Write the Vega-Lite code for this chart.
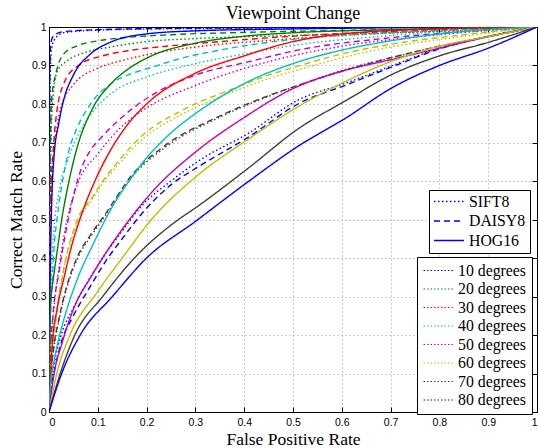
{
"$schema": "https://vega.github.io/schema/vega-lite/v6.json",
"width": 488, "height": 385,
"autosize": {"type": "none"},
"padding": {"left": 49, "top": 27, "right": 1, "bottom": 36},
"background": "white",
"title": {"text": "Viewpoint Change", "font": "Liberation Serif", "fontSize": 18, "fontWeight": "normal", "color": "black", "offset": 5, "dy": 6, "anchor": "middle"},
"config": {
 "view": {"stroke": "black", "strokeWidth": 1},
 "axis": {"domainColor": "black", "tickColor": "black", "tickSize": -5, "labelFont": "Liberation Sans", "labelFontSize": 10.5, "labelColor": "black", "gridDash": [1, 3], "gridColor": "#999999", "gridOpacity": 1, "titleFont": "Liberation Serif", "titleFontSize": 17.5, "titleFontWeight": "normal", "titleColor": "black"},
 "legend": {"orient": "none", "strokeColor": "black", "fillColor": "white", "padding": 6, "labelFont": "Liberation Serif", "labelFontSize": 15.8, "labelColor": "black", "symbolType": "stroke", "symbolSize": 900, "clipHeight": 15, "labelOffset": 4}
},
"data": {"values": [
{"m":"SIFT8","a":"10 degrees","x":0,"y":0},{"m":"SIFT8","a":"10 degrees","x":0.001,"y":0.4},{"m":"SIFT8","a":"10 degrees","x":0.002,"y":0.85},{"m":"SIFT8","a":"10 degrees","x":0.005,"y":0.94},{"m":"SIFT8","a":"10 degrees","x":0.01,"y":0.965},{"m":"SIFT8","a":"10 degrees","x":0.03,"y":0.985},{"m":"SIFT8","a":"10 degrees","x":0.1,"y":0.992},{"m":"SIFT8","a":"10 degrees","x":0.3,"y":0.996},{"m":"SIFT8","a":"10 degrees","x":1,"y":1},
{"m":"SIFT8","a":"20 degrees","x":0,"y":0},{"m":"SIFT8","a":"20 degrees","x":0.001,"y":0.3},{"m":"SIFT8","a":"20 degrees","x":0.003,"y":0.6},{"m":"SIFT8","a":"20 degrees","x":0.007,"y":0.8},{"m":"SIFT8","a":"20 degrees","x":0.017,"y":0.885},{"m":"SIFT8","a":"20 degrees","x":0.037,"y":0.912},{"m":"SIFT8","a":"20 degrees","x":0.072,"y":0.933},{"m":"SIFT8","a":"20 degrees","x":0.126,"y":0.948},{"m":"SIFT8","a":"20 degrees","x":0.2,"y":0.962},{"m":"SIFT8","a":"20 degrees","x":0.3,"y":0.97},{"m":"SIFT8","a":"20 degrees","x":0.5,"y":0.978},{"m":"SIFT8","a":"20 degrees","x":0.7,"y":0.985},{"m":"SIFT8","a":"20 degrees","x":0.9,"y":0.993},{"m":"SIFT8","a":"20 degrees","x":1,"y":1},
{"m":"SIFT8","a":"30 degrees","x":0,"y":0},{"m":"SIFT8","a":"30 degrees","x":0.001,"y":0.25},{"m":"SIFT8","a":"30 degrees","x":0.004,"y":0.5},{"m":"SIFT8","a":"30 degrees","x":0.01,"y":0.67},{"m":"SIFT8","a":"30 degrees","x":0.017,"y":0.745},{"m":"SIFT8","a":"30 degrees","x":0.024,"y":0.79},{"m":"SIFT8","a":"30 degrees","x":0.05,"y":0.85},{"m":"SIFT8","a":"30 degrees","x":0.1,"y":0.893},{"m":"SIFT8","a":"30 degrees","x":0.147,"y":0.912},{"m":"SIFT8","a":"30 degrees","x":0.208,"y":0.93},{"m":"SIFT8","a":"30 degrees","x":0.3,"y":0.948},{"m":"SIFT8","a":"30 degrees","x":0.45,"y":0.965},{"m":"SIFT8","a":"30 degrees","x":0.6,"y":0.978},{"m":"SIFT8","a":"30 degrees","x":0.8,"y":0.99},{"m":"SIFT8","a":"30 degrees","x":1,"y":1},
{"m":"SIFT8","a":"40 degrees","x":0,"y":0},{"m":"SIFT8","a":"40 degrees","x":0.002,"y":0.2},{"m":"SIFT8","a":"40 degrees","x":0.005,"y":0.35},{"m":"SIFT8","a":"40 degrees","x":0.01,"y":0.47},{"m":"SIFT8","a":"40 degrees","x":0.02,"y":0.57},{"m":"SIFT8","a":"40 degrees","x":0.04,"y":0.66},{"m":"SIFT8","a":"40 degrees","x":0.06,"y":0.72},{"m":"SIFT8","a":"40 degrees","x":0.09,"y":0.78},{"m":"SIFT8","a":"40 degrees","x":0.13,"y":0.83},{"m":"SIFT8","a":"40 degrees","x":0.2,"y":0.87},{"m":"SIFT8","a":"40 degrees","x":0.3,"y":0.905},{"m":"SIFT8","a":"40 degrees","x":0.4,"y":0.93},{"m":"SIFT8","a":"40 degrees","x":0.5,"y":0.952},{"m":"SIFT8","a":"40 degrees","x":0.7,"y":0.978},{"m":"SIFT8","a":"40 degrees","x":1,"y":1},
{"m":"SIFT8","a":"50 degrees","x":0,"y":0},{"m":"SIFT8","a":"50 degrees","x":0.003,"y":0.15},{"m":"SIFT8","a":"50 degrees","x":0.01,"y":0.27},{"m":"SIFT8","a":"50 degrees","x":0.02,"y":0.37},{"m":"SIFT8","a":"50 degrees","x":0.031,"y":0.46},{"m":"SIFT8","a":"50 degrees","x":0.058,"y":0.59},{"m":"SIFT8","a":"50 degrees","x":0.1,"y":0.67},{"m":"SIFT8","a":"50 degrees","x":0.147,"y":0.739},{"m":"SIFT8","a":"50 degrees","x":0.2,"y":0.79},{"m":"SIFT8","a":"50 degrees","x":0.3,"y":0.848},{"m":"SIFT8","a":"50 degrees","x":0.45,"y":0.91},{"m":"SIFT8","a":"50 degrees","x":0.6,"y":0.95},{"m":"SIFT8","a":"50 degrees","x":0.8,"y":0.98},{"m":"SIFT8","a":"50 degrees","x":1,"y":1},
{"m":"SIFT8","a":"60 degrees","x":0,"y":0},{"m":"SIFT8","a":"60 degrees","x":0.005,"y":0.12},{"m":"SIFT8","a":"60 degrees","x":0.015,"y":0.25},{"m":"SIFT8","a":"60 degrees","x":0.03,"y":0.37},{"m":"SIFT8","a":"60 degrees","x":0.055,"y":0.48},{"m":"SIFT8","a":"60 degrees","x":0.09,"y":0.555},{"m":"SIFT8","a":"60 degrees","x":0.105,"y":0.585},{"m":"SIFT8","a":"60 degrees","x":0.14,"y":0.64},{"m":"SIFT8","a":"60 degrees","x":0.193,"y":0.71},{"m":"SIFT8","a":"60 degrees","x":0.275,"y":0.775},{"m":"SIFT8","a":"60 degrees","x":0.37,"y":0.828},{"m":"SIFT8","a":"60 degrees","x":0.45,"y":0.866},{"m":"SIFT8","a":"60 degrees","x":0.514,"y":0.89},{"m":"SIFT8","a":"60 degrees","x":0.6,"y":0.92},{"m":"SIFT8","a":"60 degrees","x":0.7,"y":0.948},{"m":"SIFT8","a":"60 degrees","x":0.85,"y":0.976},{"m":"SIFT8","a":"60 degrees","x":1,"y":1},
{"m":"SIFT8","a":"70 degrees","x":0,"y":0},{"m":"SIFT8","a":"70 degrees","x":0.003,"y":0.08},{"m":"SIFT8","a":"70 degrees","x":0.01,"y":0.165},{"m":"SIFT8","a":"70 degrees","x":0.02,"y":0.235},{"m":"SIFT8","a":"70 degrees","x":0.036,"y":0.32},{"m":"SIFT8","a":"70 degrees","x":0.057,"y":0.395},{"m":"SIFT8","a":"70 degrees","x":0.085,"y":0.455},{"m":"SIFT8","a":"70 degrees","x":0.113,"y":0.505},{"m":"SIFT8","a":"70 degrees","x":0.173,"y":0.615},{"m":"SIFT8","a":"70 degrees","x":0.241,"y":0.69},{"m":"SIFT8","a":"70 degrees","x":0.344,"y":0.762},{"m":"SIFT8","a":"70 degrees","x":0.446,"y":0.818},{"m":"SIFT8","a":"70 degrees","x":0.514,"y":0.85},{"m":"SIFT8","a":"70 degrees","x":0.6,"y":0.887},{"m":"SIFT8","a":"70 degrees","x":0.7,"y":0.92},{"m":"SIFT8","a":"70 degrees","x":0.8,"y":0.95},{"m":"SIFT8","a":"70 degrees","x":0.9,"y":0.975},{"m":"SIFT8","a":"70 degrees","x":1,"y":1},
{"m":"SIFT8","a":"80 degrees","x":0,"y":0},{"m":"SIFT8","a":"80 degrees","x":0.003,"y":0.06},{"m":"SIFT8","a":"80 degrees","x":0.01,"y":0.12},{"m":"SIFT8","a":"80 degrees","x":0.025,"y":0.2},{"m":"SIFT8","a":"80 degrees","x":0.05,"y":0.27},{"m":"SIFT8","a":"80 degrees","x":0.08,"y":0.34},{"m":"SIFT8","a":"80 degrees","x":0.115,"y":0.41},{"m":"SIFT8","a":"80 degrees","x":0.15,"y":0.47},{"m":"SIFT8","a":"80 degrees","x":0.186,"y":0.53},{"m":"SIFT8","a":"80 degrees","x":0.25,"y":0.6},{"m":"SIFT8","a":"80 degrees","x":0.31,"y":0.655},{"m":"SIFT8","a":"80 degrees","x":0.41,"y":0.725},{"m":"SIFT8","a":"80 degrees","x":0.51,"y":0.81},{"m":"SIFT8","a":"80 degrees","x":0.61,"y":0.855},{"m":"SIFT8","a":"80 degrees","x":0.71,"y":0.903},{"m":"SIFT8","a":"80 degrees","x":0.8,"y":0.945},{"m":"SIFT8","a":"80 degrees","x":0.9,"y":0.976},{"m":"SIFT8","a":"80 degrees","x":1,"y":1},
{"m":"DAISY8","a":"10 degrees","x":0,"y":0},{"m":"DAISY8","a":"10 degrees","x":0.001,"y":0.5},{"m":"DAISY8","a":"10 degrees","x":0.002,"y":0.9},{"m":"DAISY8","a":"10 degrees","x":0.004,"y":0.96},{"m":"DAISY8","a":"10 degrees","x":0.01,"y":0.978},{"m":"DAISY8","a":"10 degrees","x":0.03,"y":0.988},{"m":"DAISY8","a":"10 degrees","x":0.1,"y":0.993},{"m":"DAISY8","a":"10 degrees","x":0.3,"y":0.997},{"m":"DAISY8","a":"10 degrees","x":1,"y":1},
{"m":"DAISY8","a":"20 degrees","x":0,"y":0},{"m":"DAISY8","a":"20 degrees","x":0.001,"y":0.4},{"m":"DAISY8","a":"20 degrees","x":0.003,"y":0.7},{"m":"DAISY8","a":"20 degrees","x":0.006,"y":0.82},{"m":"DAISY8","a":"20 degrees","x":0.014,"y":0.878},{"m":"DAISY8","a":"20 degrees","x":0.03,"y":0.93},{"m":"DAISY8","a":"20 degrees","x":0.058,"y":0.951},{"m":"DAISY8","a":"20 degrees","x":0.1,"y":0.964},{"m":"DAISY8","a":"20 degrees","x":0.16,"y":0.973},{"m":"DAISY8","a":"20 degrees","x":0.25,"y":0.98},{"m":"DAISY8","a":"20 degrees","x":0.4,"y":0.986},{"m":"DAISY8","a":"20 degrees","x":0.6,"y":0.991},{"m":"DAISY8","a":"20 degrees","x":0.8,"y":0.995},{"m":"DAISY8","a":"20 degrees","x":1,"y":1},
{"m":"DAISY8","a":"30 degrees","x":0,"y":0},{"m":"DAISY8","a":"30 degrees","x":0.001,"y":0.3},{"m":"DAISY8","a":"30 degrees","x":0.003,"y":0.55},{"m":"DAISY8","a":"30 degrees","x":0.008,"y":0.67},{"m":"DAISY8","a":"30 degrees","x":0.015,"y":0.77},{"m":"DAISY8","a":"30 degrees","x":0.031,"y":0.855},{"m":"DAISY8","a":"30 degrees","x":0.06,"y":0.9},{"m":"DAISY8","a":"30 degrees","x":0.11,"y":0.925},{"m":"DAISY8","a":"30 degrees","x":0.17,"y":0.94},{"m":"DAISY8","a":"30 degrees","x":0.24,"y":0.95},{"m":"DAISY8","a":"30 degrees","x":0.35,"y":0.962},{"m":"DAISY8","a":"30 degrees","x":0.45,"y":0.972},{"m":"DAISY8","a":"30 degrees","x":0.6,"y":0.983},{"m":"DAISY8","a":"30 degrees","x":0.8,"y":0.992},{"m":"DAISY8","a":"30 degrees","x":1,"y":1},
{"m":"DAISY8","a":"40 degrees","x":0,"y":0},{"m":"DAISY8","a":"40 degrees","x":0.002,"y":0.2},{"m":"DAISY8","a":"40 degrees","x":0.007,"y":0.35},{"m":"DAISY8","a":"40 degrees","x":0.01,"y":0.42},{"m":"DAISY8","a":"40 degrees","x":0.017,"y":0.507},{"m":"DAISY8","a":"40 degrees","x":0.027,"y":0.594},{"m":"DAISY8","a":"40 degrees","x":0.041,"y":0.68},{"m":"DAISY8","a":"40 degrees","x":0.058,"y":0.739},{"m":"DAISY8","a":"40 degrees","x":0.085,"y":0.8},{"m":"DAISY8","a":"40 degrees","x":0.126,"y":0.852},{"m":"DAISY8","a":"40 degrees","x":0.167,"y":0.878},{"m":"DAISY8","a":"40 degrees","x":0.21,"y":0.895},{"m":"DAISY8","a":"40 degrees","x":0.26,"y":0.915},{"m":"DAISY8","a":"40 degrees","x":0.35,"y":0.94},{"m":"DAISY8","a":"40 degrees","x":0.5,"y":0.968},{"m":"DAISY8","a":"40 degrees","x":0.7,"y":0.985},{"m":"DAISY8","a":"40 degrees","x":1,"y":1},
{"m":"DAISY8","a":"50 degrees","x":0,"y":0},{"m":"DAISY8","a":"50 degrees","x":0.003,"y":0.15},{"m":"DAISY8","a":"50 degrees","x":0.008,"y":0.25},{"m":"DAISY8","a":"50 degrees","x":0.02,"y":0.36},{"m":"DAISY8","a":"50 degrees","x":0.034,"y":0.465},{"m":"DAISY8","a":"50 degrees","x":0.048,"y":0.55},{"m":"DAISY8","a":"50 degrees","x":0.065,"y":0.628},{"m":"DAISY8","a":"50 degrees","x":0.085,"y":0.68},{"m":"DAISY8","a":"50 degrees","x":0.105,"y":0.71},{"m":"DAISY8","a":"50 degrees","x":0.14,"y":0.755},{"m":"DAISY8","a":"50 degrees","x":0.173,"y":0.79},{"m":"DAISY8","a":"50 degrees","x":0.207,"y":0.82},{"m":"DAISY8","a":"50 degrees","x":0.3,"y":0.875},{"m":"DAISY8","a":"50 degrees","x":0.41,"y":0.91},{"m":"DAISY8","a":"50 degrees","x":0.51,"y":0.94},{"m":"DAISY8","a":"50 degrees","x":0.7,"y":0.972},{"m":"DAISY8","a":"50 degrees","x":0.85,"y":0.988},{"m":"DAISY8","a":"50 degrees","x":1,"y":1},
{"m":"DAISY8","a":"60 degrees","x":0,"y":0},{"m":"DAISY8","a":"60 degrees","x":0.005,"y":0.12},{"m":"DAISY8","a":"60 degrees","x":0.015,"y":0.25},{"m":"DAISY8","a":"60 degrees","x":0.03,"y":0.37},{"m":"DAISY8","a":"60 degrees","x":0.055,"y":0.49},{"m":"DAISY8","a":"60 degrees","x":0.09,"y":0.56},{"m":"DAISY8","a":"60 degrees","x":0.105,"y":0.59},{"m":"DAISY8","a":"60 degrees","x":0.14,"y":0.648},{"m":"DAISY8","a":"60 degrees","x":0.193,"y":0.72},{"m":"DAISY8","a":"60 degrees","x":0.275,"y":0.785},{"m":"DAISY8","a":"60 degrees","x":0.37,"y":0.836},{"m":"DAISY8","a":"60 degrees","x":0.45,"y":0.875},{"m":"DAISY8","a":"60 degrees","x":0.514,"y":0.9},{"m":"DAISY8","a":"60 degrees","x":0.6,"y":0.93},{"m":"DAISY8","a":"60 degrees","x":0.7,"y":0.955},{"m":"DAISY8","a":"60 degrees","x":0.85,"y":0.98},{"m":"DAISY8","a":"60 degrees","x":1,"y":1},
{"m":"DAISY8","a":"70 degrees","x":0,"y":0},{"m":"DAISY8","a":"70 degrees","x":0.003,"y":0.08},{"m":"DAISY8","a":"70 degrees","x":0.01,"y":0.17},{"m":"DAISY8","a":"70 degrees","x":0.02,"y":0.24},{"m":"DAISY8","a":"70 degrees","x":0.036,"y":0.325},{"m":"DAISY8","a":"70 degrees","x":0.057,"y":0.4},{"m":"DAISY8","a":"70 degrees","x":0.085,"y":0.46},{"m":"DAISY8","a":"70 degrees","x":0.113,"y":0.51},{"m":"DAISY8","a":"70 degrees","x":0.173,"y":0.62},{"m":"DAISY8","a":"70 degrees","x":0.241,"y":0.695},{"m":"DAISY8","a":"70 degrees","x":0.344,"y":0.765},{"m":"DAISY8","a":"70 degrees","x":0.446,"y":0.82},{"m":"DAISY8","a":"70 degrees","x":0.514,"y":0.85},{"m":"DAISY8","a":"70 degrees","x":0.6,"y":0.885},{"m":"DAISY8","a":"70 degrees","x":0.7,"y":0.92},{"m":"DAISY8","a":"70 degrees","x":0.8,"y":0.95},{"m":"DAISY8","a":"70 degrees","x":0.9,"y":0.975},{"m":"DAISY8","a":"70 degrees","x":1,"y":1},
{"m":"DAISY8","a":"80 degrees","x":0,"y":0},{"m":"DAISY8","a":"80 degrees","x":0.003,"y":0.05},{"m":"DAISY8","a":"80 degrees","x":0.01,"y":0.1},{"m":"DAISY8","a":"80 degrees","x":0.025,"y":0.18},{"m":"DAISY8","a":"80 degrees","x":0.05,"y":0.25},{"m":"DAISY8","a":"80 degrees","x":0.084,"y":0.325},{"m":"DAISY8","a":"80 degrees","x":0.118,"y":0.395},{"m":"DAISY8","a":"80 degrees","x":0.15,"y":0.45},{"m":"DAISY8","a":"80 degrees","x":0.19,"y":0.515},{"m":"DAISY8","a":"80 degrees","x":0.25,"y":0.59},{"m":"DAISY8","a":"80 degrees","x":0.31,"y":0.64},{"m":"DAISY8","a":"80 degrees","x":0.41,"y":0.715},{"m":"DAISY8","a":"80 degrees","x":0.51,"y":0.8},{"m":"DAISY8","a":"80 degrees","x":0.61,"y":0.85},{"m":"DAISY8","a":"80 degrees","x":0.71,"y":0.9},{"m":"DAISY8","a":"80 degrees","x":0.8,"y":0.943},{"m":"DAISY8","a":"80 degrees","x":0.9,"y":0.975},{"m":"DAISY8","a":"80 degrees","x":1,"y":1},
{"m":"HOG16","a":"10 degrees","x":0,"y":0},{"m":"HOG16","a":"10 degrees","x":0.001,"y":0.2},{"m":"HOG16","a":"10 degrees","x":0.003,"y":0.4},{"m":"HOG16","a":"10 degrees","x":0.005,"y":0.52},{"m":"HOG16","a":"10 degrees","x":0.01,"y":0.66},{"m":"HOG16","a":"10 degrees","x":0.02,"y":0.75},{"m":"HOG16","a":"10 degrees","x":0.03,"y":0.81},{"m":"HOG16","a":"10 degrees","x":0.05,"y":0.875},{"m":"HOG16","a":"10 degrees","x":0.085,"y":0.93},{"m":"HOG16","a":"10 degrees","x":0.125,"y":0.96},{"m":"HOG16","a":"10 degrees","x":0.2,"y":0.982},{"m":"HOG16","a":"10 degrees","x":0.3,"y":0.99},{"m":"HOG16","a":"10 degrees","x":0.5,"y":0.995},{"m":"HOG16","a":"10 degrees","x":0.7,"y":0.998},{"m":"HOG16","a":"10 degrees","x":1,"y":1},
{"m":"HOG16","a":"20 degrees","x":0,"y":0},{"m":"HOG16","a":"20 degrees","x":0.003,"y":0.27},{"m":"HOG16","a":"20 degrees","x":0.01,"y":0.356},{"m":"HOG16","a":"20 degrees","x":0.017,"y":0.42},{"m":"HOG16","a":"20 degrees","x":0.027,"y":0.507},{"m":"HOG16","a":"20 degrees","x":0.04,"y":0.594},{"m":"HOG16","a":"20 degrees","x":0.055,"y":0.675},{"m":"HOG16","a":"20 degrees","x":0.09,"y":0.79},{"m":"HOG16","a":"20 degrees","x":0.125,"y":0.85},{"m":"HOG16","a":"20 degrees","x":0.167,"y":0.895},{"m":"HOG16","a":"20 degrees","x":0.21,"y":0.925},{"m":"HOG16","a":"20 degrees","x":0.3,"y":0.958},{"m":"HOG16","a":"20 degrees","x":0.4,"y":0.976},{"m":"HOG16","a":"20 degrees","x":0.5,"y":0.985},{"m":"HOG16","a":"20 degrees","x":0.7,"y":0.993},{"m":"HOG16","a":"20 degrees","x":1,"y":1},
{"m":"HOG16","a":"30 degrees","x":0,"y":0},{"m":"HOG16","a":"30 degrees","x":0.007,"y":0.18},{"m":"HOG16","a":"30 degrees","x":0.017,"y":0.27},{"m":"HOG16","a":"30 degrees","x":0.031,"y":0.35},{"m":"HOG16","a":"30 degrees","x":0.044,"y":0.42},{"m":"HOG16","a":"30 degrees","x":0.065,"y":0.507},{"m":"HOG16","a":"30 degrees","x":0.092,"y":0.594},{"m":"HOG16","a":"30 degrees","x":0.126,"y":0.68},{"m":"HOG16","a":"30 degrees","x":0.16,"y":0.745},{"m":"HOG16","a":"30 degrees","x":0.2,"y":0.8},{"m":"HOG16","a":"30 degrees","x":0.3,"y":0.88},{"m":"HOG16","a":"30 degrees","x":0.4,"y":0.925},{"m":"HOG16","a":"30 degrees","x":0.5,"y":0.962},{"m":"HOG16","a":"30 degrees","x":0.6,"y":0.982},{"m":"HOG16","a":"30 degrees","x":0.8,"y":0.995},{"m":"HOG16","a":"30 degrees","x":1,"y":1},
{"m":"HOG16","a":"40 degrees","x":0,"y":0},{"m":"HOG16","a":"40 degrees","x":0.003,"y":0.07},{"m":"HOG16","a":"40 degrees","x":0.01,"y":0.13},{"m":"HOG16","a":"40 degrees","x":0.02,"y":0.19},{"m":"HOG16","a":"40 degrees","x":0.035,"y":0.26},{"m":"HOG16","a":"40 degrees","x":0.058,"y":0.345},{"m":"HOG16","a":"40 degrees","x":0.092,"y":0.44},{"m":"HOG16","a":"40 degrees","x":0.126,"y":0.525},{"m":"HOG16","a":"40 degrees","x":0.167,"y":0.605},{"m":"HOG16","a":"40 degrees","x":0.2,"y":0.66},{"m":"HOG16","a":"40 degrees","x":0.25,"y":0.725},{"m":"HOG16","a":"40 degrees","x":0.3,"y":0.775},{"m":"HOG16","a":"40 degrees","x":0.4,"y":0.853},{"m":"HOG16","a":"40 degrees","x":0.5,"y":0.905},{"m":"HOG16","a":"40 degrees","x":0.6,"y":0.94},{"m":"HOG16","a":"40 degrees","x":0.7,"y":0.964},{"m":"HOG16","a":"40 degrees","x":0.8,"y":0.982},{"m":"HOG16","a":"40 degrees","x":0.9,"y":0.993},{"m":"HOG16","a":"40 degrees","x":1,"y":1},
{"m":"HOG16","a":"50 degrees","x":0,"y":0},{"m":"HOG16","a":"50 degrees","x":0.01,"y":0.096},{"m":"HOG16","a":"50 degrees","x":0.027,"y":0.18},{"m":"HOG16","a":"50 degrees","x":0.051,"y":0.27},{"m":"HOG16","a":"50 degrees","x":0.088,"y":0.355},{"m":"HOG16","a":"50 degrees","x":0.12,"y":0.42},{"m":"HOG16","a":"50 degrees","x":0.165,"y":0.5},{"m":"HOG16","a":"50 degrees","x":0.215,"y":0.577},{"m":"HOG16","a":"50 degrees","x":0.3,"y":0.675},{"m":"HOG16","a":"50 degrees","x":0.4,"y":0.765},{"m":"HOG16","a":"50 degrees","x":0.5,"y":0.84},{"m":"HOG16","a":"50 degrees","x":0.6,"y":0.885},{"m":"HOG16","a":"50 degrees","x":0.7,"y":0.915},{"m":"HOG16","a":"50 degrees","x":0.8,"y":0.945},{"m":"HOG16","a":"50 degrees","x":0.9,"y":0.975},{"m":"HOG16","a":"50 degrees","x":1,"y":1},
{"m":"HOG16","a":"60 degrees","x":0,"y":0},{"m":"HOG16","a":"60 degrees","x":0.016,"y":0.1},{"m":"HOG16","a":"60 degrees","x":0.043,"y":0.2},{"m":"HOG16","a":"60 degrees","x":0.098,"y":0.31},{"m":"HOG16","a":"60 degrees","x":0.15,"y":0.4},{"m":"HOG16","a":"60 degrees","x":0.21,"y":0.5},{"m":"HOG16","a":"60 degrees","x":0.3,"y":0.61},{"m":"HOG16","a":"60 degrees","x":0.41,"y":0.71},{"m":"HOG16","a":"60 degrees","x":0.51,"y":0.793},{"m":"HOG16","a":"60 degrees","x":0.61,"y":0.86},{"m":"HOG16","a":"60 degrees","x":0.7,"y":0.91},{"m":"HOG16","a":"60 degrees","x":0.8,"y":0.95},{"m":"HOG16","a":"60 degrees","x":0.9,"y":0.975},{"m":"HOG16","a":"60 degrees","x":1,"y":1},
{"m":"HOG16","a":"70 degrees","x":0,"y":0},{"m":"HOG16","a":"70 degrees","x":0.023,"y":0.1},{"m":"HOG16","a":"70 degrees","x":0.053,"y":0.2},{"m":"HOG16","a":"70 degrees","x":0.11,"y":0.3},{"m":"HOG16","a":"70 degrees","x":0.175,"y":0.4},{"m":"HOG16","a":"70 degrees","x":0.26,"y":0.495},{"m":"HOG16","a":"70 degrees","x":0.3,"y":0.53},{"m":"HOG16","a":"70 degrees","x":0.41,"y":0.635},{"m":"HOG16","a":"70 degrees","x":0.51,"y":0.735},{"m":"HOG16","a":"70 degrees","x":0.61,"y":0.81},{"m":"HOG16","a":"70 degrees","x":0.7,"y":0.875},{"m":"HOG16","a":"70 degrees","x":0.8,"y":0.925},{"m":"HOG16","a":"70 degrees","x":0.9,"y":0.96},{"m":"HOG16","a":"70 degrees","x":1,"y":1},
{"m":"HOG16","a":"80 degrees","x":0,"y":0},{"m":"HOG16","a":"80 degrees","x":0.026,"y":0.1},{"m":"HOG16","a":"80 degrees","x":0.064,"y":0.2},{"m":"HOG16","a":"80 degrees","x":0.13,"y":0.3},{"m":"HOG16","a":"80 degrees","x":0.2,"y":0.4},{"m":"HOG16","a":"80 degrees","x":0.3,"y":0.495},{"m":"HOG16","a":"80 degrees","x":0.41,"y":0.6},{"m":"HOG16","a":"80 degrees","x":0.51,"y":0.69},{"m":"HOG16","a":"80 degrees","x":0.61,"y":0.765},{"m":"HOG16","a":"80 degrees","x":0.7,"y":0.84},{"m":"HOG16","a":"80 degrees","x":0.8,"y":0.9},{"m":"HOG16","a":"80 degrees","x":0.9,"y":0.945},{"m":"HOG16","a":"80 degrees","x":1,"y":1}
]},
"resolve": {"axis": {"x": "independent", "y": "independent"}},
"layer": [
 {
  "mark": {"type": "line", "strokeWidth": 1.4, "interpolate": "monotone", "clip": true},
  "encoding": {
   "x": {"field": "x", "type": "quantitative", "scale": {"domain": [0, 1], "nice": false}, "axis": {"title": "False Positive Rate", "values": [0,0.1,0.2,0.3,0.4,0.5,0.6,0.7,0.8,0.9,1], "format": "~g", "grid": true, "labelPadding": 10, "titlePadding": 3}},
   "y": {"field": "y", "type": "quantitative", "scale": {"domain": [0, 1], "nice": false}, "axis": {"title": "Correct Match Rate", "values": [0,0.1,0.2,0.3,0.4,0.5,0.6,0.7,0.8,0.9,1], "format": "~g", "grid": true, "labelPadding": 8, "titlePadding": 6}},
   "color": {"field": "a", "type": "nominal", "scale": {"domain": ["10 degrees","20 degrees","30 degrees","40 degrees","50 degrees","60 degrees","70 degrees","80 degrees"], "range": ["#0000ff","#008000","#ff0000","#00bfbf","#bf00bf","#bfbf00","#404040","#0000ff"]}, "legend": {"title": null, "legendX": 368, "legendY": 230, "symbolDash": [1.5, 2], "symbolStrokeWidth": 1, "rowPadding": 1.5}},
   "strokeDash": {"field": "m", "type": "nominal", "scale": {"domain": ["SIFT8","DAISY8","HOG16"], "range": [[1.5,2.5],[6,4],[1,0]]}, "legend": {"title": null, "legendX": 380, "legendY": 163, "padding": 4, "symbolStrokeColor": "#0000ff", "symbolStrokeWidth": 1.5, "rowPadding": 2.5}}
  }
 },
 {
  "mark": {"type": "point", "opacity": 0},
  "encoding": {
   "x": {"field": "x", "type": "quantitative", "axis": {"orient": "top", "title": null, "labels": false, "grid": false, "values": [0,0.1,0.2,0.3,0.4,0.5,0.6,0.7,0.8,0.9,1]}},
   "y": {"field": "y", "type": "quantitative", "axis": {"orient": "right", "title": null, "labels": false, "grid": false, "values": [0,0.1,0.2,0.3,0.4,0.5,0.6,0.7,0.8,0.9,1]}}
  }
 }
]
}
